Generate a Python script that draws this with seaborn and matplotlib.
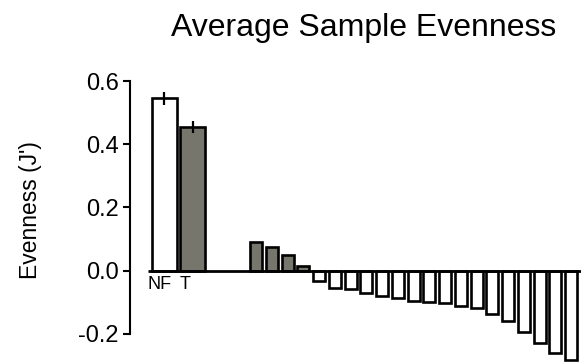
import numpy as np
import pandas as pd
import matplotlib
matplotlib.use("Agg")
import matplotlib.pyplot as plt
import seaborn as sns

# ---- data ----
main_labels = ["NF", "T"]
main_values = [0.545, 0.455]
main_errors = [0.020, 0.020]

sample_values = [0.092, 0.076, 0.051, 0.016,
                 -0.032, -0.054, -0.059, -0.070, -0.079, -0.086, -0.095,
                 -0.098, -0.102, -0.113, -0.117, -0.137, -0.159, -0.194,
                 -0.229, -0.260, -0.283]

title = "Average Sample Evenness"
ylabel = "Evenness (J')"
yticks = [-0.2, 0.0, 0.2, 0.4, 0.6]

gray = "#77776b"

sns.set_theme(style="white")
plt.rcParams["font.family"] = ["Liberation Sans", "DejaVu Sans"]

fig = plt.figure(figsize=(5.81, 3.62), dpi=100)
ax = fig.add_axes([130 / 581, 0, 451 / 581, 1 - 81 / 362])

# main bars (NF, T)
main_pos = [-5.81, -4.03]
df_main = pd.DataFrame({"x": main_pos, "y": main_values, "g": main_labels})
sns.barplot(data=df_main, x="x", y="y", hue="g",
            palette={"NF": "white", "T": gray}, native_scale=True,
            dodge=False, legend=False, width=0.89, errorbar=None,
            edgecolor="black", linewidth=1.9, ax=ax)

# per-sample bars
pos = np.arange(len(sample_values))
df_s = pd.DataFrame({"x": pos, "y": sample_values,
                     "g": ["pos" if v > 0 else "neg" for v in sample_values]})
sns.barplot(data=df_s, x="x", y="y", hue="g",
            palette={"pos": gray, "neg": "white"}, native_scale=True,
            dodge=False, legend=False, width=0.76, errorbar=None,
            edgecolor="black", linewidth=1.9, ax=ax)

# error bars
ax.vlines(main_pos, np.array(main_values) - np.array(main_errors),
          np.array(main_values) + np.array(main_errors),
          color="black", lw=1.6, zorder=6)

# zero line
ax.hlines(0, -6.86, 20.7, color="black", lw=2.0, zorder=5)

ax.set_xlim(-8.0, 20.63)
ax.set_ylim(-0.289, 0.6)
ax.set_xlabel("")
ax.set_ylabel("")
ax.set_xticks([])
ax.set_yticks(yticks)
ax.set_yticklabels([f"{t:.1f}" for t in yticks])
ax.tick_params(axis="y", direction="out", length=5, width=1.5, pad=3,
               labelsize=17, colors="black", left=True)
for s in ["top", "right", "bottom"]:
    ax.spines[s].set_visible(False)
ax.spines["left"].set_linewidth(1.5)
ax.spines["left"].set_color("black")
ax.spines["left"].set_bounds(-0.2, 0.6)
ax.patch.set_alpha(0)

# category labels under the first two bars
ax.text(-6.1, -0.016, "NF", ha="center", va="top", fontsize=13, color="black")
ax.text(-4.5, -0.016, "T", ha="center", va="top", fontsize=13, color="black")

fig.text(364 / 581, 1 - 36 / 362, title, ha="center", va="baseline",
         fontsize=23, color="black")
fig.text(31 / 581, 1 - 210.5 / 362, ylabel, rotation=90, ha="center",
         va="center", fontsize=16.5, color="black")

fig.savefig("out.png", dpi=100)
